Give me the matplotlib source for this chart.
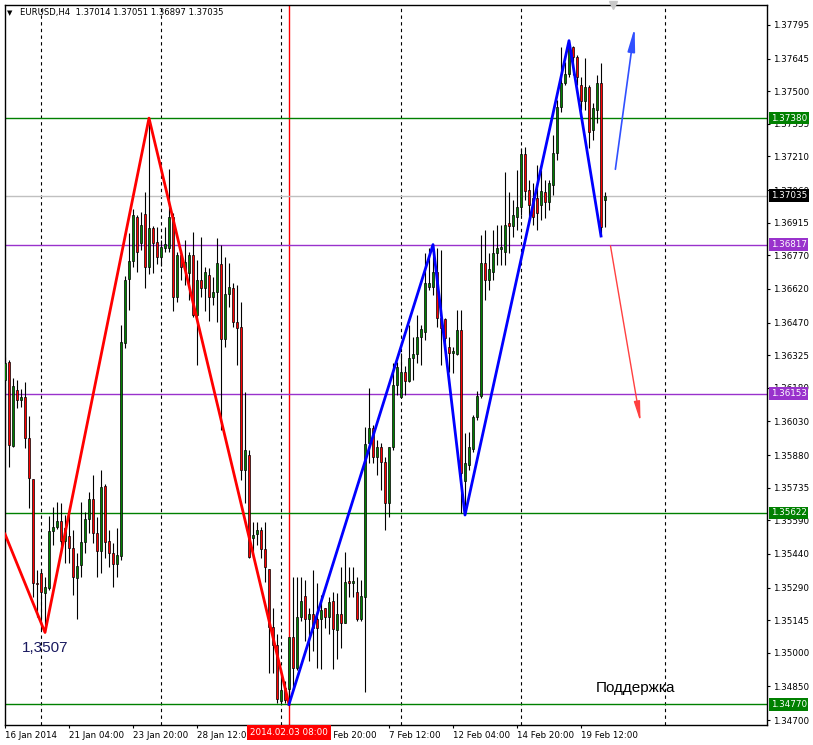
import numpy as np
import matplotlib.pyplot as plt

# EURUSD H4 candles, bar 0 = 16 Jan 2014 12:00
opens = [1.36214, 1.36294, 1.35921, 1.36170, 1.36126, 1.36139, 1.35957, 1.35773, 1.35309, 1.35354,
         1.35264, 1.35286, 1.35541, 1.35559, 1.35586, 1.35497, 1.35519, 1.35466, 1.35331, 1.35390,
         1.35492, 1.35595, 1.35684, 1.35532, 1.35452, 1.35742, 1.35497, 1.35443, 1.35394, 1.35430,
         1.36379, 1.36664, 1.36744, 1.36940, 1.36824, 1.36953, 1.36717, 1.36891, 1.36829, 1.36762,
         1.36802, 1.36802, 1.36940, 1.36584, 1.36771, 1.36704, 1.36691, 1.36771, 1.36503, 1.36660,
         1.36624, 1.36682, 1.36584, 1.36606, 1.36731, 1.36397, 1.36597, 1.36624, 1.36472, 1.36450,
         1.35814, 1.35881, 1.35510, 1.35528, 1.35546, 1.35461, 1.35372, 1.35116, 1.35036, 1.34786,
         1.34844, 1.34840, 1.35071, 1.34933, 1.35157, 1.35251, 1.35148, 1.35174, 1.35148, 1.35148,
         1.35197, 1.35157, 1.35228, 1.35103, 1.35174, 1.35130, 1.35318, 1.35309, 1.35268, 1.35152,
         1.35246, 1.35934, 1.36001, 1.35872, 1.35917, 1.35849, 1.35666, 1.35917, 1.36192, 1.36139,
         1.36250, 1.36210, 1.36312, 1.36330, 1.36406, 1.36428, 1.36628, 1.36628, 1.36695, 1.36490,
         1.36486, 1.36361, 1.36334, 1.36330, 1.36437, 1.35764, 1.35836, 1.35908, 1.36050, 1.36144,
         1.36735, 1.36660, 1.36695, 1.36780, 1.36798, 1.36784, 1.36913, 1.36900, 1.36940, 1.36985,
         1.37221, 1.37061, 1.37025, 1.37025, 1.36994, 1.37052, 1.37007, 1.37083, 1.37225, 1.37430,
         1.37537, 1.37577, 1.37697, 1.37652, 1.37528, 1.37456, 1.37519, 1.37327, 1.37416, 1.37537,
         1.37014]
highs = [1.36317, 1.36303, 1.36223, 1.36214, 1.36174, 1.36205, 1.36055, 1.35773, 1.35367, 1.35372,
         1.35336, 1.35608, 1.35649, 1.35671, 1.35666, 1.35613, 1.35613, 1.35546, 1.35443, 1.35671,
         1.35626, 1.35715, 1.35791, 1.35604, 1.35814, 1.35751, 1.35546, 1.35488, 1.35555, 1.36459,
         1.36677, 1.36869, 1.36976, 1.36949, 1.36962, 1.37052, 1.37380, 1.36900, 1.36895, 1.36838,
         1.36895, 1.37154, 1.36958, 1.36784, 1.36793, 1.36838, 1.36784, 1.36873, 1.36749, 1.36851,
         1.36717, 1.36713, 1.36673, 1.36847, 1.36815, 1.36762, 1.36735, 1.36646, 1.36637, 1.36561,
         1.36161, 1.35903, 1.35582, 1.35582, 1.35559, 1.35582, 1.35372, 1.35201, 1.35085, 1.34889,
         1.34875, 1.35071, 1.35336, 1.35336, 1.35336, 1.35322, 1.35197, 1.35367, 1.35309, 1.35255,
         1.35201, 1.35246, 1.35268, 1.35264, 1.35381, 1.35448, 1.35381, 1.35381, 1.35336, 1.35322,
         1.36006, 1.36178, 1.36014, 1.35948, 1.35934, 1.35872, 1.35917, 1.36290, 1.36294, 1.36334,
         1.36277, 1.36459, 1.36406, 1.36503, 1.36459, 1.36780, 1.36802, 1.36817, 1.36802, 1.36793,
         1.36490, 1.36406, 1.36361, 1.36526, 1.36526, 1.35979, 1.35983, 1.36059, 1.36166, 1.36860,
         1.36882, 1.36780, 1.36882, 1.36904, 1.36904, 1.37141, 1.37052, 1.37016, 1.37150, 1.37247,
         1.37252, 1.37105, 1.37092, 1.37172, 1.37150, 1.37105, 1.37105, 1.37305, 1.37461, 1.37697,
         1.37630, 1.37724, 1.37701, 1.37661, 1.37563, 1.37648, 1.37528, 1.37448, 1.37572, 1.37626,
         1.37051]
lows = [1.35925, 1.35827, 1.35917, 1.36090, 1.36094, 1.35912, 1.35644, 1.35246, 1.35157, 1.35107,
        1.35090, 1.35277, 1.35479, 1.35550, 1.35443, 1.35398, 1.35398, 1.35255, 1.35148, 1.35336,
        1.35443, 1.35532, 1.35488, 1.35336, 1.35354, 1.35421, 1.35381, 1.35291, 1.35336, 1.35412,
        1.36357, 1.36526, 1.36717, 1.36695, 1.36793, 1.36624, 1.36686, 1.36691, 1.36731, 1.36722,
        1.36784, 1.36784, 1.36521, 1.36561, 1.36660, 1.36637, 1.36570, 1.36494, 1.36281, 1.36584,
        1.36521, 1.36477, 1.36548, 1.36472, 1.35992, 1.36361, 1.36539, 1.36450, 1.36281, 1.35769,
        1.35666, 1.35421, 1.35421, 1.35479, 1.35421, 1.35313, 1.34911, 1.34911, 1.34777, 1.34777,
        1.34777, 1.34770, 1.34835, 1.34924, 1.35143, 1.35054, 1.34964, 1.35009, 1.34933, 1.34929,
        1.35112, 1.35085, 1.34929, 1.34973, 1.35022, 1.35130, 1.35246, 1.35246, 1.35143, 1.35143,
        1.34826, 1.35845, 1.35845, 1.35791, 1.35724, 1.35546, 1.35604, 1.35903, 1.36148, 1.36135,
        1.36148, 1.36205, 1.36214, 1.36290, 1.36281, 1.36392, 1.36615, 1.36593, 1.36450, 1.36281,
        1.36357, 1.36250, 1.36246, 1.36325, 1.35622, 1.35613, 1.35814, 1.35894, 1.36037, 1.36135,
        1.36570, 1.36615, 1.36660, 1.36726, 1.36726, 1.36726, 1.36780, 1.36851, 1.36882, 1.36949,
        1.37016, 1.36918, 1.36904, 1.36882, 1.36927, 1.36936, 1.36971, 1.37038, 1.37194, 1.37407,
        1.37528, 1.37563, 1.37572, 1.37528, 1.37416, 1.37416, 1.37247, 1.37283, 1.37358, 1.36855,
        1.36897]
closes = [1.36290, 1.35925, 1.36187, 1.36126, 1.36139, 1.35957, 1.35778, 1.35309, 1.35304, 1.35268,
          1.35291, 1.35541, 1.35559, 1.35586, 1.35497, 1.35555, 1.35466, 1.35336, 1.35385, 1.35492,
          1.35595, 1.35684, 1.35532, 1.35452, 1.35737, 1.35492, 1.35443, 1.35394, 1.35434, 1.36383,
          1.36660, 1.36744, 1.36949, 1.36784, 1.36904, 1.36717, 1.36891, 1.36824, 1.36762, 1.36806,
          1.36820, 1.36940, 1.36584, 1.36771, 1.36717, 1.36740, 1.36771, 1.36503, 1.36660, 1.36624,
          1.36695, 1.36584, 1.36606, 1.36735, 1.36397, 1.36597, 1.36628, 1.36472, 1.36446, 1.35814,
          1.35903, 1.35425, 1.35523, 1.35546, 1.35461, 1.35381, 1.35116, 1.35036, 1.34795, 1.34835,
          1.34790, 1.35071, 1.34933, 1.35157, 1.35228, 1.35148, 1.35174, 1.35112, 1.35112, 1.35188,
          1.35157, 1.35224, 1.35107, 1.35174, 1.35134, 1.35313, 1.35309, 1.35318, 1.35152, 1.35251,
          1.35930, 1.36001, 1.35872, 1.35917, 1.35849, 1.35666, 1.35917, 1.36192, 1.36272, 1.36250,
          1.36210, 1.36312, 1.36330, 1.36406, 1.36441, 1.36646, 1.36646, 1.36695, 1.36490, 1.36446,
          1.36401, 1.36334, 1.36343, 1.36437, 1.35800, 1.35845, 1.35917, 1.36050, 1.36144, 1.36735,
          1.36660, 1.36709, 1.36780, 1.36802, 1.36806, 1.36904, 1.36900, 1.36949, 1.36985, 1.37221,
          1.37056, 1.36994, 1.36940, 1.36958, 1.37056, 1.37007, 1.37092, 1.37225, 1.37430, 1.37537,
          1.37577, 1.37697, 1.37652, 1.37563, 1.37456, 1.37519, 1.37318, 1.37425, 1.37537, 1.36895,
          1.37035]

# zigzag wave drawings (bar index, price)
red_wave_bars = [0, 10, 36, 71]
red_wave_prices = [1.35528, 1.35090, 1.37380, 1.34770]
blue_wave_bars = [71, 107, 115, 141, 149]
blue_wave_prices = [1.34770, 1.36817, 1.35613, 1.37725, 1.36855]

# forecast arrows: (bar, price) start -> end
up_arrow = [(152.5, 1.37140), (157.5, 1.37795)]
down_arrow = [(151.25, 1.36824), (159.0, 1.36014)]

# horizontal levels
green_levels = [1.37380, 1.35622, 1.34770]
purple_levels = [1.36817, 1.36153]
bid_price = 1.37035

price_ticks = [1.37795, 1.37645, 1.37500, 1.37355, 1.37210, 1.37060, 1.36915, 1.36770,
               1.36620, 1.36470, 1.36325, 1.36180, 1.36030, 1.35880, 1.35735, 1.35590,
               1.35440, 1.35290, 1.35145, 1.35000, 1.34850, 1.34700]
time_tick_bars = [0, 16, 32, 48, 80, 96, 112, 128, 144]
time_tick_labels = ["16 Jan 2014", "21 Jan 04:00", "23 Jan 20:00", "28 Jan 12:00",
                    "4 Feb 20:00", "7 Feb 12:00", "12 Feb 04:00",
                    "14 Feb 20:00", "19 Feb 12:00"]
grid_bars = [9, 39, 69, 99, 129, 165]
cursor_bar = 71
cursor_label = "2014.02.03 08:00"

plt.rcParams['font.family'] = ['DejaVu Sans']
W, H = 813, 745
fig = plt.figure(figsize=(W / 100, H / 100), dpi=100)
fig.patch.set_facecolor('white')
ax = fig.add_axes([4.5 / W, 1 - 725 / H, (767 - 4.5) / W, (725 - 4.5) / H])
ax.set_xlim(-0.125, 190.5)
ax.set_ylim(1.34678, 1.37886)

o = np.array(opens)
h = np.array(highs)
l = np.array(lows)
c = np.array(closes)
idx = np.arange(len(o))
up = c >= o

for b in grid_bars:
    ax.axvline(b, color='black', lw=0.8, ls=(0, (3, 3)), zorder=1)
ax.axvline(cursor_bar, color='red', lw=1, zorder=1.5)

for lv in green_levels:
    ax.axhline(lv, color='#008000', lw=1, zorder=2)
for lv in purple_levels:
    ax.axhline(lv, color='#9932CC', lw=1, zorder=2)
ax.axhline(bid_price, color='#C0C0C0', lw=1, zorder=2)

ax.vlines(idx, l, h, color='black', lw=0.8, zorder=3)
body_h = np.maximum(np.abs(c - o), 0.00002)
ax.bar(idx, body_h, bottom=np.minimum(o, c), width=0.72,
       color=np.where(up, '#008000', '#FF0000'), edgecolor='black', linewidth=0.5, zorder=4)

ax.plot(red_wave_bars, red_wave_prices, color='#FF0000', lw=2, zorder=5)
ax.plot(blue_wave_bars, blue_wave_prices, color='#0000FF', lw=2, zorder=5)

ax.annotate('', xy=up_arrow[1], xytext=up_arrow[0],
            arrowprops=dict(arrowstyle='-|>,head_length=1.4,head_width=0.22',
                            color='#3050FF', lw=1.2), zorder=6)
ax.annotate('', xy=down_arrow[1], xytext=down_arrow[0],
            arrowprops=dict(arrowstyle='-|>,head_length=1.2,head_width=0.18',
                            color='#FF4040', lw=1.0), zorder=6)

ax.text(4.25, 1.35020, "1,3507", fontsize=11, family='Liberation Sans',
        color='#1a1a60', va='center', ha='left', zorder=6)
ax.text(147.75, 1.34842, "Поддержка", fontsize=11, family='Liberation Sans',
        color='black', va='center', ha='left', zorder=6)

# axes look
for s in ax.spines.values():
    s.set_color('black')
    s.set_linewidth(1)
ax.yaxis.tick_right()
ax.set_yticks(price_ticks)
ax.set_yticklabels([f"{p:.5f}" for p in price_ticks])
ax.set_xticks(time_tick_bars)
ax.set_xticklabels(time_tick_labels)
for lbl in ax.get_xticklabels():
    lbl.set_ha('left')
ax.tick_params(axis='y', direction='out', length=2.5, width=0.8, pad=2, labelsize=6.3)
ax.tick_params(axis='x', direction='out', length=2.5, width=0.8, pad=1.5, labelsize=6.3)

def price_box(price, fc, tc='white'):
    ax.annotate(f"{price:.5f}", xy=(1, price), xycoords=('axes fraction', 'data'),
                xytext=(2.6, 0), textcoords='offset points', ha='left', va='center',
                fontsize=6.3, color=tc, zorder=10, annotation_clip=False,
                bbox=dict(boxstyle='square,pad=0.2', fc=fc, ec='none'))

for lv in green_levels:
    price_box(lv, '#008000')
for lv in purple_levels:
    price_box(lv, '#9932CC')
price_box(bid_price, 'black')

ax.annotate(cursor_label, xy=(cursor_bar, 0), xycoords=('data', 'axes fraction'),
            xytext=(0, -2.2), textcoords='offset points', ha='center', va='top',
            fontsize=6.3, color='white', zorder=10, annotation_clip=False,
            bbox=dict(boxstyle='square,pad=0.3', fc='#FF0000', ec='none'))

# chart-shift marker and header
ax.plot([152], [1.37886], marker='v', ms=6, color='#C8C8C8', clip_on=False, zorder=10)
fig.text(10 / W, 1 - 13 / H, "▼", fontsize=5, va='center', ha='center')
fig.text(20 / W, 1 - 13 / H, "EURUSD,H4  1.37014 1.37051 1.36897 1.37035",
         fontsize=6.1, va='center', ha='left')

fig.savefig('out.png', dpi=100, facecolor='white')
